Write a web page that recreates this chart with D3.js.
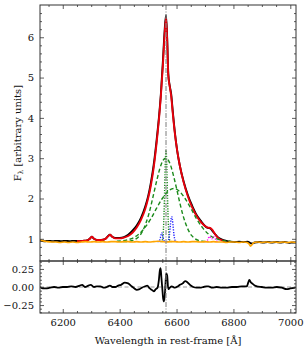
<!DOCTYPE html>
<html>
<head>
<meta charset="utf-8">
<script src="https://cdn.jsdelivr.net/npm/d3@7"></script>
<style>
  body { margin: 0; background: #fff; }
  text { font-family: "DejaVu Serif", serif; }
</style>
</head>
<body>
<svg id="chart" width="307" height="351"></svg>
<script>
// observed spectrum (black)
const obsWave = [6120, 6135, 6150, 6165, 6180, 6195, 6210, 6225, 6240, 6255, 6270, 6285, 6295, 6302, 6310, 6320, 6335, 6350, 6358, 6366, 6374, 6385, 6400, 6415, 6430, 6445, 6460, 6475, 6490, 6500, 6510, 6520, 6530, 6538, 6545, 6552, 6558, 6563, 6567, 6571, 6576, 6581, 6587, 6594, 6602, 6612, 6625, 6640, 6655, 6670, 6685, 6700, 6710, 6718, 6726, 6735, 6745, 6760, 6775, 6790, 6805, 6820, 6835, 6850, 6858, 6866, 6875, 6890, 6905, 6920, 6935, 6950, 6965, 6980, 6995, 7010, 7020]
const obsFlux = [0.96, 0.94, 0.95, 0.94, 0.95, 0.94, 0.95, 0.94, 0.95, 0.94, 0.95, 0.96, 1.00, 1.05, 1.00, 0.97, 0.97, 1.00, 1.06, 1.10, 1.05, 1.02, 1.02, 1.04, 1.10, 1.20, 1.33, 1.52, 1.80, 2.05, 2.40, 2.85, 3.45, 4.00, 4.60, 5.40, 6.15, 6.55, 6.00, 5.10, 4.80, 4.60, 4.15, 3.65, 3.20, 2.80, 2.42, 2.08, 1.82, 1.60, 1.45, 1.32, 1.27, 1.26, 1.20, 1.12, 1.04, 0.98, 0.95, 0.93, 0.92, 0.93, 0.92, 0.93, 0.90, 0.88, 0.91, 0.92, 0.91, 0.92, 0.91, 0.92, 0.91, 0.92, 0.90, 0.91, 0.91]

// total model (red)
const modelWave = [6250, 6270, 6285, 6295, 6302, 6310, 6320, 6335, 6350, 6358, 6366, 6374, 6385, 6400, 6415, 6430, 6445, 6460, 6475, 6490, 6500, 6510, 6520, 6530, 6538, 6545, 6552, 6558, 6563, 6567, 6571, 6576, 6581, 6587, 6594, 6602, 6612, 6625, 6640, 6655, 6670, 6685, 6700, 6710, 6718, 6726, 6735, 6745, 6760, 6770]
const modelFlux = [0.94, 0.95, 0.96, 1.00, 1.05, 1.00, 0.97, 0.97, 1.00, 1.05, 1.10, 1.05, 1.01, 1.01, 1.03, 1.07, 1.15, 1.28, 1.47, 1.74, 2.00, 2.33, 2.78, 3.38, 3.95, 4.55, 5.30, 6.05, 6.48, 5.95, 5.05, 4.78, 4.55, 4.10, 3.62, 3.20, 2.80, 2.40, 2.05, 1.78, 1.57, 1.42, 1.32, 1.28, 1.27, 1.22, 1.12, 1.03, 0.96, 0.94]

// host / continuum (orange)
const hostWave = [6120, 6130, 6145, 6160, 6175, 6190, 6205, 6220, 6235, 6250, 6265, 6280, 6295, 6310, 6325, 6340, 6355, 6370, 6385, 6400, 6415, 6430, 6445, 6460, 6475, 6490, 6505, 6520, 6535, 6550, 6565, 6580, 6595, 6610, 6625, 6640, 6655, 6670, 6685, 6700, 6715, 6730, 6745, 6760, 6775, 6790, 6805, 6820, 6835, 6848, 6855, 6860, 6866, 6872, 6885, 6900, 6915, 6930, 6945, 6960, 6975, 6990, 7005, 7020]
const hostFlux = [0.98, 0.95, 0.93, 0.92, 0.92, 0.91, 0.92, 0.91, 0.92, 0.91, 0.92, 0.93, 0.92, 0.93, 0.92, 0.93, 0.92, 0.93, 0.93, 0.92, 0.93, 0.93, 0.92, 0.93, 0.92, 0.93, 0.92, 0.93, 0.94, 0.93, 0.92, 0.93, 0.93, 0.92, 0.93, 0.92, 0.93, 0.93, 0.92, 0.93, 0.92, 0.93, 0.92, 0.92, 0.91, 0.92, 0.92, 0.91, 0.92, 0.91, 0.87, 0.82, 0.86, 0.91, 0.92, 0.91, 0.92, 0.91, 0.92, 0.91, 0.92, 0.91, 0.92, 0.91]

// broad H-alpha components (green dashed)
const broad1Wave = [6412, 6432, 6447, 6462, 6472, 6482, 6492, 6502, 6512, 6522, 6532, 6542, 6552, 6562, 6572, 6582, 6592, 6602, 6612, 6622, 6632, 6642, 6652, 6662, 6677, 6692, 6712]
const broad1Flux = [0.93, 0.94, 0.96, 1.02, 1.09, 1.21, 1.38, 1.60, 1.88, 2.19, 2.49, 2.76, 2.94, 3.00, 2.94, 2.76, 2.49, 2.19, 1.88, 1.60, 1.38, 1.21, 1.09, 1.02, 0.96, 0.94, 0.93]
const broad2Wave = [6390, 6410, 6430, 6450, 6470, 6490, 6510, 6530, 6550, 6570, 6590, 6610, 6630, 6650, 6670, 6690, 6710, 6730, 6750, 6770, 6790]
const broad2Flux = [0.94, 0.95, 0.98, 1.03, 1.13, 1.29, 1.50, 1.76, 2.00, 2.18, 2.25, 2.18, 2.00, 1.76, 1.50, 1.29, 1.13, 1.03, 0.98, 0.95, 0.94]

// narrow H-alpha (green dotted)
const narrowWave = [6543, 6548, 6551, 6554, 6556, 6558, 6560, 6563, 6566, 6568, 6570, 6572, 6575, 6578, 6583]
const narrowFlux = [0.93, 0.94, 0.99, 1.24, 1.61, 2.15, 2.75, 3.20, 2.75, 2.15, 1.61, 1.24, 0.99, 0.94, 0.93]

// [NII] 6548, 6583 (blue dotted)
const nii1Wave = [6533, 6538, 6541, 6544, 6546, 6548, 6550, 6552, 6555, 6558, 6563]
const nii1Flux = [0.93, 0.94, 0.97, 1.05, 1.11, 1.15, 1.11, 1.05, 0.97, 0.94, 0.93]
const nii2Wave = [6565, 6570, 6573, 6575, 6577, 6579, 6581, 6583, 6585, 6587, 6589, 6591, 6593, 6596, 6601]
const nii2Flux = [0.93, 0.95, 1.01, 1.10, 1.23, 1.38, 1.50, 1.55, 1.50, 1.38, 1.23, 1.10, 1.01, 0.95, 0.93]

// [SII] 6716, 6731 (magenta dotted)
const siiWave = [6700, 6708, 6712, 6716, 6720, 6724, 6727, 6731, 6735, 6739, 6747]
const siiFlux = [0.93, 0.96, 1.02, 1.06, 1.02, 1.00, 1.02, 1.05, 1.02, 0.96, 0.93]

// residuals (bottom panel)
const resWave = [6120, 6130, 6140, 6155, 6170, 6185, 6200, 6215, 6230, 6245, 6260, 6268, 6278, 6290, 6298, 6310, 6320, 6332, 6345, 6355, 6366, 6375, 6385, 6395, 6405, 6418, 6430, 6442, 6452, 6460, 6470, 6478, 6490, 6497, 6506, 6513, 6520, 6527, 6533, 6538, 6541, 6544, 6547, 6550, 6553, 6556, 6559, 6562, 6564, 6567, 6571, 6576, 6583, 6594, 6605, 6612, 6622, 6630, 6637, 6642, 6650, 6659, 6670, 6682, 6695, 6705, 6712, 6725, 6741, 6760, 6776, 6795, 6812, 6830, 6847, 6852, 6856, 6862, 6866, 6875, 6882, 6900, 6917, 6935, 6952, 6970, 6987, 7000, 7018]
const resVal = [0.00, -0.02, -0.02, -0.01, 0.00, -0.01, 0.00, 0.00, 0.01, 0.00, 0.02, 0.03, 0.00, 0.02, 0.03, 0.00, 0.01, 0.01, -0.01, 0.00, 0.02, 0.00, 0.00, 0.02, 0.03, 0.06, 0.05, 0.01, -0.02, -0.04, -0.03, -0.01, 0.01, 0.02, -0.02, -0.04, -0.06, -0.03, -0.01, 0.10, 0.22, 0.26, 0.12, -0.02, -0.16, -0.20, -0.10, 0.10, 0.19, 0.16, -0.03, -0.01, 0.01, -0.01, 0.01, 0.03, 0.05, 0.08, 0.07, 0.05, 0.02, 0.00, -0.01, -0.01, 0.00, 0.01, 0.01, -0.01, 0.00, -0.01, -0.01, 0.00, 0.00, 0.01, 0.01, 0.06, 0.10, 0.06, 0.05, 0.02, 0.01, 0.00, -0.01, -0.01, 0.00, -0.01, -0.03, -0.02, -0.01]

const haWave = 6563
const xTicks = [6200, 6400, 6600, 6800, 7000]
const topTicks = [1, 2, 3, 4, 5, 6]
const resTicks = [-0.25, 0, 0.25]

const svg = d3.select('#chart')
const left = 40, right = 296
const topY0 = 5, topY1 = 261, botY1 = 313

const x = d3.scaleLinear().domain([6120, 7020]).range([left, right])
const yTop = d3.scaleLinear().domain([0.45, 6.8]).range([topY1, topY0])
const yBot = d3.scaleLinear().domain([-0.36, 0.36]).range([botY1, topY1])

svg.append('clipPath').attr('id', 'clipTop')
  .append('rect').attr('x', left).attr('y', topY0).attr('width', right - left).attr('height', topY1 - topY0)
svg.append('clipPath').attr('id', 'clipBot')
  .append('rect').attr('x', left).attr('y', topY1).attr('width', right - left).attr('height', botY1 - topY1)

const gTop = svg.append('g').attr('clip-path', 'url(#clipTop)')
const gBot = svg.append('g').attr('clip-path', 'url(#clipBot)')

function drawLine (g, ys, wave, vals, color, width, dash) {
  const line = d3.line()
    .x(d => x(d[0]))
    .y(d => ys(d[1]))
    .curve(d3.curveMonotoneX)
  g.append('path')
    .datum(d3.zip(wave, vals))
    .attr('d', line)
    .attr('fill', 'none')
    .attr('stroke', color)
    .attr('stroke-width', width)
    .attr('stroke-dasharray', dash || null)
    .attr('stroke-linejoin', 'round')
}

// top panel
drawLine(gTop, yTop, obsWave, obsFlux, '#000', 1.9)
drawLine(gTop, yTop, modelWave, modelFlux, '#e8000b', 1.9)
drawLine(gTop, yTop, broad1Wave, broad1Flux, '#1a8a1a', 1.4, '4,2.5')
drawLine(gTop, yTop, broad2Wave, broad2Flux, '#1a8a1a', 1.4, '4,2.5')
drawLine(gTop, yTop, narrowWave, narrowFlux, '#1a8a1a', 1.4, '1.2,1.4')
drawLine(gTop, yTop, nii1Wave, nii1Flux, '#1f1fff', 1.4, '1.2,1.4')
drawLine(gTop, yTop, nii2Wave, nii2Flux, '#1f1fff', 1.4, '1.2,1.4')
drawLine(gTop, yTop, siiWave, siiFlux, '#ff00ff', 1.4, '1.2,1.4')
drawLine(gTop, yTop, hostWave, hostFlux, '#ffa500', 1.6)

// bottom panel
gBot.append('line')
  .attr('x1', left).attr('x2', right)
  .attr('y1', yBot(0)).attr('y2', yBot(0))
  .attr('stroke', '#999').attr('stroke-width', 1).attr('stroke-dasharray', '4,2.5')
drawLine(gBot, yBot, resWave, resVal, '#000', 1.8)

// H-alpha marker across both panels
svg.append('line')
  .attr('x1', x(haWave)).attr('x2', x(haWave))
  .attr('y1', topY0).attr('y2', botY1)
  .attr('stroke', '#888').attr('stroke-width', 1.1)
  .attr('stroke-dasharray', '5,1.5,1,1.5')

// axes with inward ticks on all sides
const axisColor = '#333'
function ticks (g, axisFn, scale, values, size, fmt) {
  g.call(axisFn(scale).tickValues(values).tickSizeInner(-size).tickSizeOuter(0)
    .tickPadding(fmt ? 6 : 0).tickFormat(fmt || (() => '')))
  g.select('.domain').remove()
  g.selectAll('line').attr('stroke', axisColor).attr('stroke-width', 0.8)
  g.selectAll('text').attr('font-family', '"DejaVu Serif", serif').attr('font-size', 10).attr('fill', '#111')
}

const xMinor = d3.range(6150, 7020, 50).filter(v => v % 200 !== 0)
const topMinor = d3.range(0.6, 6.8, 0.2).filter(v => Math.abs(v - Math.round(v)) > 0.01)
const botMinor = d3.range(-0.35, 0.36, 0.05).filter(v => Math.abs(v / 0.25 - Math.round(v / 0.25)) > 0.01)

// top panel axes
ticks(svg.append('g').attr('transform', `translate(0,${topY1})`), d3.axisBottom, x, xTicks, 4)
ticks(svg.append('g').attr('transform', `translate(0,${topY1})`), d3.axisBottom, x, xMinor, 2)
ticks(svg.append('g').attr('transform', `translate(0,${topY0})`), d3.axisTop, x, xTicks, 4)
ticks(svg.append('g').attr('transform', `translate(0,${topY0})`), d3.axisTop, x, xMinor, 2)
ticks(svg.append('g').attr('transform', `translate(${left},0)`), d3.axisLeft, yTop, topTicks, 4, d3.format('d'))
ticks(svg.append('g').attr('transform', `translate(${left},0)`), d3.axisLeft, yTop, topMinor, 2)
ticks(svg.append('g').attr('transform', `translate(${right},0)`), d3.axisRight, yTop, topTicks, 4)
ticks(svg.append('g').attr('transform', `translate(${right},0)`), d3.axisRight, yTop, topMinor, 2)

// bottom panel axes
ticks(svg.append('g').attr('transform', `translate(0,${botY1})`), d3.axisBottom, x, xTicks, 4, d3.format('d'))
ticks(svg.append('g').attr('transform', `translate(0,${botY1})`), d3.axisBottom, x, xMinor, 2)
ticks(svg.append('g').attr('transform', `translate(0,${topY1})`), d3.axisTop, x, xTicks, 4)
ticks(svg.append('g').attr('transform', `translate(0,${topY1})`), d3.axisTop, x, xMinor, 2)
ticks(svg.append('g').attr('transform', `translate(${left},0)`), d3.axisLeft, yBot, resTicks, 4, d3.format('.2f'))
ticks(svg.append('g').attr('transform', `translate(${left},0)`), d3.axisLeft, yBot, botMinor, 2)
ticks(svg.append('g').attr('transform', `translate(${right},0)`), d3.axisRight, yBot, resTicks, 4)
ticks(svg.append('g').attr('transform', `translate(${right},0)`), d3.axisRight, yBot, botMinor, 2)

// frames
svg.append('rect').attr('x', left).attr('y', topY0).attr('width', right - left).attr('height', topY1 - topY0)
  .attr('fill', 'none').attr('stroke', axisColor).attr('stroke-width', 1)
svg.append('rect').attr('x', left).attr('y', topY1).attr('width', right - left).attr('height', botY1 - topY1)
  .attr('fill', 'none').attr('stroke', axisColor).attr('stroke-width', 1)

// labels
svg.append('text')
  .attr('x', (left + right) / 2).attr('y', 344)
  .attr('text-anchor', 'middle').attr('font-size', 10).attr('fill', '#111')
  .text('Wavelength in rest-frame [Å]')

const yl = svg.append('text')
  .attr('transform', `translate(21,${(topY0 + topY1) / 2}) rotate(-90)`)
  .attr('text-anchor', 'middle').attr('font-size', 10).attr('fill', '#111')
yl.append('tspan').text('F')
yl.append('tspan').attr('font-size', 7).attr('dy', 2).text('λ')
yl.append('tspan').attr('dy', -2).text(' [arbitrary units]')
</script>
</body>
</html>
